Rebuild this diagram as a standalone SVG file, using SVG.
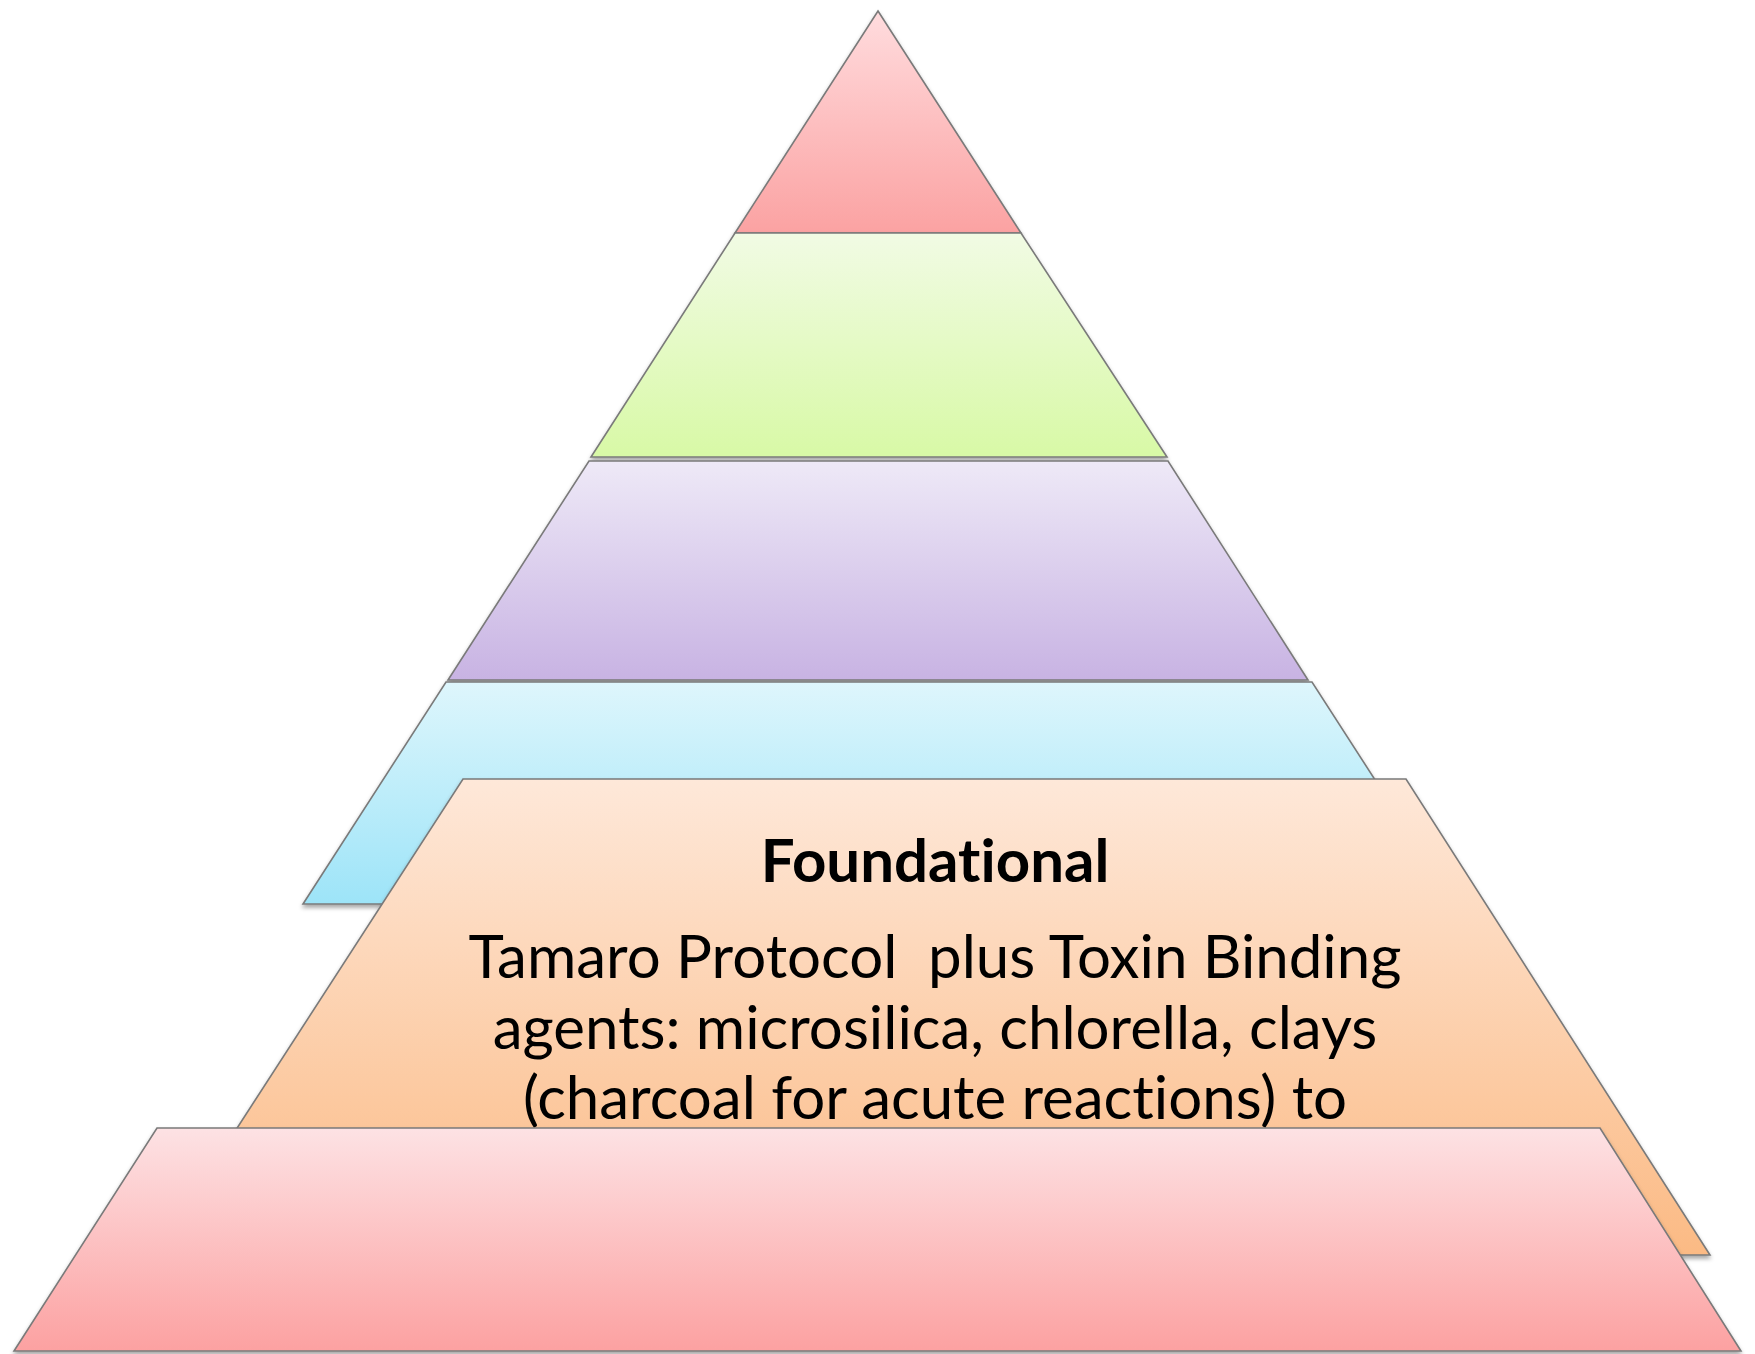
<svg xmlns="http://www.w3.org/2000/svg" width="1755" height="1354" viewBox="0 0 1755 1354">
<style>
.layer{stroke:#7a7a7a;stroke-width:1.6;stroke-linejoin:miter;filter:url(#sh)}
.title{font-family:Lato,"Open Sans","Liberation Sans",sans-serif;font-weight:bold;font-size:60px;fill:#000;text-anchor:middle;font-variant-ligatures:none}
.body{font-family:Lato,"Open Sans","Liberation Sans",sans-serif;font-size:60px;fill:#000;text-anchor:middle;font-variant-ligatures:none;white-space:pre}
</style>
<defs>
<filter id="sh" x="-5%" y="-5%" width="110%" height="115%">
<feDropShadow dx="0" dy="3" stdDeviation="2" flood-color="#000" flood-opacity="0.35"/>
</filter>
<linearGradient id="gRed" x1="0" y1="0" x2="0" y2="1"><stop offset="0" stop-color="#ffdcde"/><stop offset="1" stop-color="#fba2a2"/></linearGradient>
<linearGradient id="gGreen" x1="0" y1="0" x2="0" y2="1"><stop offset="0" stop-color="#f1fbe4"/><stop offset="1" stop-color="#d8f9a6"/></linearGradient>
<linearGradient id="gPurple" x1="0" y1="0" x2="0" y2="1"><stop offset="0" stop-color="#eee9f7"/><stop offset="1" stop-color="#c8b3e3"/></linearGradient>
<linearGradient id="gBlue" x1="0" y1="0" x2="0" y2="1"><stop offset="0" stop-color="#def6fc"/><stop offset="1" stop-color="#9de4f8"/></linearGradient>
<linearGradient id="gOrange" x1="0" y1="0" x2="0" y2="1"><stop offset="0" stop-color="#fee8d9"/><stop offset="1" stop-color="#fbba84"/></linearGradient>
<linearGradient id="gPink" x1="0" y1="0" x2="0" y2="1"><stop offset="0" stop-color="#fde2e4"/><stop offset="1" stop-color="#fca1a1"/></linearGradient>
</defs>
<g id="level1">
<polygon class="layer" fill="url(#gRed)" points="878,11 1021,233 735,233"/>
</g>
<g id="level2">
<polygon class="layer" fill="url(#gGreen)" points="735,233 1021,233 1167,457 591,457"/>
</g>
<g id="level3">
<polygon class="layer" fill="url(#gPurple)" points="589,461 1168,461 1308,680 448,680"/>
</g>
<g id="level4">
<polygon class="layer" fill="url(#gBlue)" points="446,682 1312,682 1455,904 303,904"/>
</g>
<g id="level5">
<polygon class="layer" fill="url(#gOrange)" points="463,779 1406,779 1710,1255 155,1255"/>
<text class="title" x="935" y="882">Foundational</text>
<text class="body" x="935" y="978" xml:space="preserve">Tamaro Protocol  plus Toxin Binding</text>
<text class="body" x="935" y="1049">agents: microsilica, chlorella, clays</text>
<text class="body" x="935" y="1119">(charcoal for acute reactions) to</text>
</g>
<g id="level6">
<polygon class="layer" fill="url(#gPink)" points="157,1128 1600,1128 1741,1351 14,1351"/>
</g>
<g id="connectors"></g>
</svg>
